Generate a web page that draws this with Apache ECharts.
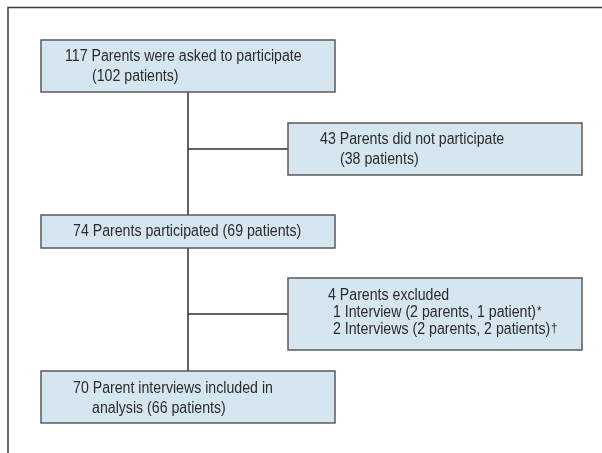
<!DOCTYPE html>
<html>
<head>
<meta charset="utf-8">
<script src="https://cdn.jsdelivr.net/npm/echarts@6/dist/echarts.min.js"></script>
<style>
  html, body { margin: 0; padding: 0; background: #fff; }
  #main { width: 602px; height: 453px; }
</style>
</head>
<body>
<div id="main"></div>
<script>
  // box texts (one entry per line) and footnote marks
  const boxLines = [
    ['117 Parents were asked to participate', '(102 patients)'],
    ['43 Parents did not participate', '(38 patients)'],
    ['74 Parents participated (69 patients)'],
    ['4 Parents excluded', '1 Interview (2 parents, 1 patient)', '2 Interviews (2 parents, 2 patients)'],
    ['70 Parent interviews included in', 'analysis (66 patients)']
  ];
  const boxNotes = [[], [], [], ['', '*', '\u2020'], []];

  // layout, in page pixels (axis units)
  const boxRects = [[41, 40, 335, 92], [288, 123, 582, 175], [41, 215, 335, 248], [288, 278, 582, 350], [41, 371, 335, 423]];
  const textPos = [
    [[65, 57], [92, 77]],
    [[320, 140], [340, 160]],
    [[73, 232]],
    [[328, 296], [333, 313], [333, 330]],
    [[73, 389], [92, 409]]
  ];
  const connectors = [[188, 92, 188, 371], [188, 149, 288, 149], [188, 314, 288, 314]];

  const FONT = '"Liberation Sans", Arial, sans-serif';
  const NARROW = 0.885; // condensed look, no narrow face installed

  const chart = echarts.init(document.getElementById('main'), null, { renderer: 'canvas' });

  const option = {
    backgroundColor: '#fff',
    animation: false,
    grid: { left: 0, right: 0, top: 0, bottom: 0 },
    xAxis: { type: 'value', min: 0, max: 602, show: false },
    yAxis: { type: 'value', min: 0, max: 453, inverse: true, show: false },
    graphic: [
      {
        type: 'polyline',
        shape: { points: [[8, 453], [8, 7.5], [602, 7.5]] },
        style: { stroke: '#3a3a3a', lineWidth: 1.5, fill: null }
      }
    ],
    series: [
      {
        type: 'custom',
        coordinateSystem: 'cartesian2d',
        data: connectors,
        renderItem: function (params, api) {
          const a = api.coord([api.value(0), api.value(1)]);
          const b = api.coord([api.value(2), api.value(3)]);
          return {
            type: 'line',
            shape: { x1: a[0], y1: a[1], x2: b[0], y2: b[1] },
            style: { stroke: '#2e2e2e', lineWidth: 1.5 }
          };
        }
      },
      {
        type: 'custom',
        coordinateSystem: 'cartesian2d',
        data: boxRects.map((r, i) => [r[0], r[1], r[2], r[3], i]),
        renderItem: function (params, api) {
          const i = api.value(4);
          const p0 = api.coord([api.value(0), api.value(1)]);
          const p1 = api.coord([api.value(2), api.value(3)]);
          const children = [{
            type: 'rect',
            shape: { x: p0[0], y: p0[1], width: p1[0] - p0[0], height: p1[1] - p0[1] },
            style: { fill: '#d6e6f0', stroke: '#5a5a5a', lineWidth: 1.5 }
          }];
          boxLines[i].forEach((line, j) => {
            const pt = api.coord(textPos[i][j]);
            const note = boxNotes[i][j];
            children.push({
              type: 'text',
              x: pt[0],
              y: pt[1],
              scaleX: NARROW,
              style: {
                text: note ? line + '{sup|' + note + '}' : line,
                fill: '#2b2b2b',
                font: '16px ' + FONT,
                align: 'left',
                verticalAlign: 'middle',
                rich: {
                  sup: { fontSize: 13, fontFamily: FONT, fill: '#2b2b2b', verticalAlign: 'top', padding: [0, 0, 0, 1] }
                }
              }
            });
          });
          return { type: 'group', children: children };
        }
      }
    ]
  };

  chart.setOption(option);
</script>
</body>
</html>
